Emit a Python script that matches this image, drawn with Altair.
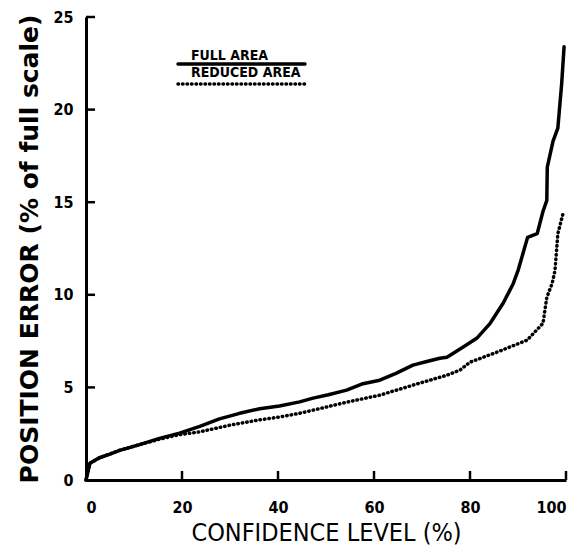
import altair as alt
import pandas as pd

# Full area curve (confidence %, position error % of full scale)
conf_full = [0, 0.8, 2.8, 5, 7, 11, 15.3, 19.5, 23.7, 27.8, 32, 36.2, 40.3, 44.5, 47.3,
             50.5, 54.3, 57.7, 61.2, 64.7, 68.1, 71, 73.7, 75.2, 78.5, 81.4, 84.2, 86.9,
             89, 90, 91, 92, 94, 95.2, 96, 96.1, 97.3, 98.3, 99.1, 99.6]
err_full = [0, 0.9, 1.2, 1.4, 1.6, 1.9, 2.25, 2.53, 2.9, 3.3, 3.6, 3.85, 4.0, 4.22, 4.42,
            4.6, 4.85, 5.2, 5.39, 5.77, 6.2, 6.4, 6.57, 6.63, 7.17, 7.65, 8.46, 9.54,
            10.6, 11.3, 12.2, 13.1, 13.3, 14.5, 15.1, 16.9, 18.3, 19.0, 21.4, 23.4]

# Reduced area curve
conf_red = [0, 0.8, 2.8, 7, 11, 15.3, 19.5, 23.7, 30, 36.2, 40.3, 44.5, 47.3, 54.3, 61.2,
            68.1, 75.2, 77.9, 80, 85.6, 91.9, 95.2, 96, 97.1, 97.7, 98.3, 99.4]
err_red = [0, 0.9, 1.2, 1.6, 1.9, 2.2, 2.45, 2.6, 2.96, 3.25, 3.4, 3.6, 3.77, 4.2, 4.58,
           5.12, 5.66, 5.93, 6.36, 6.9, 7.55, 8.46, 9.86, 10.6, 11.3, 13.3, 14.4]

x_ticks = [20, 40, 60, 80, 100]
y_ticks = [5, 10, 15, 20, 25]
x_labels = [0, 20, 40, 60, 80, 100]
y_labels = [0, 5, 10, 15, 20, 25]
leg_names = ["FULL AREA", "REDUCED AREA"]

W, H = 480, 463

full_df = pd.DataFrame({"conf": conf_full, "err": err_full})
red_df = pd.DataFrame({"conf": conf_red, "err": err_red})

xs = alt.Scale(domain=[0, 100], nice=False, zero=False)
ys = alt.Scale(domain=[0, 25], nice=False, zero=False)

cond = "'DejaVu Sans Condensed', 'Liberation Sans', sans-serif"

x_axis = alt.Axis(values=x_labels, ticks=False, grid=False, domainColor="black",
                  domainWidth=3, labelFont=cond, labelFontWeight="bold",
                  labelFontSize=16, labelColor="black", labelPadding=19,
                  title="CONFIDENCE LEVEL  (%)", titleFont=cond,
                  titleFontSize=25, titleFontWeight="normal", titleColor="black",
                  titlePadding=5)
y_axis = alt.Axis(values=y_labels, ticks=False, grid=False, domainColor="black",
                  domainWidth=3, labelFont=cond, labelFontWeight="bold",
                  labelFontSize=16, labelColor="black", labelPadding=13,
                  title="POSITION ERROR  (% of full scale)", titleFont="DejaVu Sans",
                  titleFontSize=25, titleFontWeight="bold", titleColor="black",
                  titlePadding=10)

full_line = alt.Chart(full_df).mark_line(color="black", strokeWidth=3.5,
                                         strokeJoin="round", strokeCap="round").encode(
    x=alt.X("conf:Q", scale=xs, axis=x_axis),
    y=alt.Y("err:Q", scale=ys, axis=y_axis),
    order="conf:Q",
)
red_line = alt.Chart(red_df).mark_line(color="black", strokeWidth=3.5, strokeDash=[0.5, 4],
                                       strokeCap="round").encode(
    x=alt.X("conf:Q", scale=xs),
    y=alt.Y("err:Q", scale=ys),
    order="conf:Q",
)

xt = alt.Chart(pd.DataFrame({"t": x_ticks})).mark_rule(color="black", strokeWidth=2.5).encode(
    x=alt.X("t:Q", scale=xs), y=alt.value(H), y2=alt.value(H - 9))
yt = alt.Chart(pd.DataFrame({"t": y_ticks})).mark_rule(color="black", strokeWidth=2.5).encode(
    y=alt.Y("t:Q", scale=ys), x=alt.value(0), x2=alt.value(9))

# Legend
leg_text1 = alt.Chart(pd.DataFrame({"name": [leg_names[0]]})).mark_text(
    font=cond, fontWeight="bold", fontSize=14, align="left", baseline="bottom",
    color="black").encode(text="name:N", x=alt.value(105), y=alt.value(46))
leg_text2 = alt.Chart(pd.DataFrame({"name": [leg_names[1]]})).mark_text(
    font=cond, fontWeight="bold", fontSize=14, align="left", baseline="bottom",
    color="black").encode(text="name:N", x=alt.value(105), y=alt.value(63))
leg_rule1 = alt.Chart(pd.DataFrame({"name": [leg_names[0]]})).mark_rule(
    color="black", strokeWidth=3.5, strokeCap="round").encode(
    x=alt.value(92), x2=alt.value(219), y=alt.value(47))
leg_rule2 = alt.Chart(pd.DataFrame({"name": [leg_names[1]]})).mark_rule(
    color="black", strokeWidth=3.5, strokeDash=[0.5, 4], strokeCap="round").encode(
    x=alt.value(92), x2=alt.value(219), y=alt.value(67))

chart = alt.layer(full_line, red_line, xt, yt, leg_text1, leg_text2, leg_rule1, leg_rule2).properties(
    width=W, height=H,
    autosize=alt.AutoSizeParams(type="none"),
    padding={"left": 86, "top": 17, "right": 16, "bottom": 71},
    background="white",
).configure_view(stroke=None)

chart.save("out.html", embed_options={"renderer": "svg", "actions": False})
